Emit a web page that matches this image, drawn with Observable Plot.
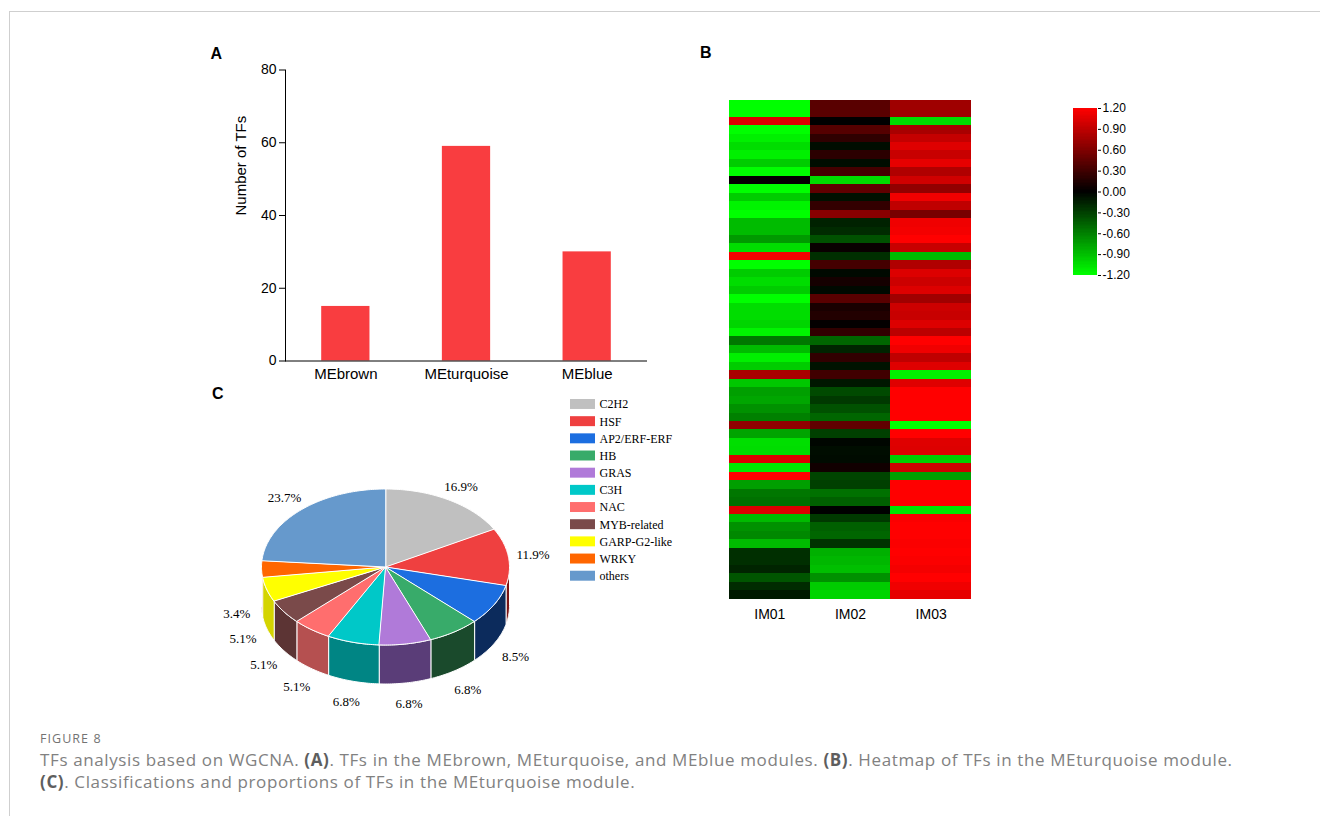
<!DOCTYPE html>
<html><head><meta charset="utf-8">
<script src="https://cdn.jsdelivr.net/npm/d3@7"></script>
<script src="https://cdn.jsdelivr.net/npm/@observablehq/plot@0.6"></script>
<style>
html,body{margin:0;padding:0;background:#fff;}
#root{position:relative;width:1320px;height:816px;overflow:hidden;background:#fff;}
.abs{position:absolute;}
.panel{font-family:"Liberation Sans",Arial,sans-serif;font-weight:bold;font-size:16px;line-height:16px;color:#000;}
.frame{position:absolute;left:9px;top:11px;width:1400px;height:900px;border-left:1px solid #cfcfcf;border-top:1px solid #cfcfcf;}
.figlab{font-family:"Open Sans",sans-serif;font-size:12.5px;line-height:14px;color:#737373;letter-spacing:1.05px;}
.cap{font-family:"Open Sans",sans-serif;font-size:17px;line-height:20px;color:#818181;white-space:nowrap;letter-spacing:0.62px;}
.cap b{color:#5e5e5e;}
</style></head>
<body><div id="root"><div class="frame"></div></div>
<script>
// ---------- Panel A data ----------
const modules = ["MEbrown", "MEturquoise", "MEblue"];
const tfCounts = [15, 59, 30];
const yTicksA = [0, 20, 40, 60, 80];

// ---------- Panel B data (heatmap, 59 TFs x 3 samples) ----------
const heatSamples = ["IM01", "IM02", "IM03"];
const im01 = [-1.2,-1.2,1.04,-1.2,-1.13,-1.04,-1.13,-0.96,-1.2,0.02,-1.2,-0.96,-1.15,-1.2,-0.88,-0.88,-0.72,-1.04,1.15,-1.2,-0.96,-1.04,-0.96,-1.2,-1.04,-1.04,-1.0,-1.15,-0.56,-0.88,-1.13,-0.96,0.8,-0.94,-0.75,-0.78,-0.68,-0.6,0.68,-0.77,-1.05,-1.04,1.04,-1.1,1.2,-0.75,-0.56,-0.53,1.04,-0.88,-0.68,-0.64,-0.88,-0.22,-0.22,-0.17,-0.4,-0.2,-0.12];
const im02 = [0.42,0.42,0.0,0.4,0.22,-0.06,0.2,-0.06,0.32,-1.04,0.45,-0.08,0.24,0.64,-0.16,-0.2,-0.38,0.04,-0.22,0.32,-0.04,0.1,-0.04,0.42,0.12,0.16,0.02,0.23,-0.48,-0.17,0.23,-0.09,0.3,-0.11,-0.35,-0.27,-0.38,-0.48,0.45,-0.3,-0.03,-0.06,-0.05,0.08,-0.32,-0.3,-0.53,-0.45,0.0,-0.27,-0.45,-0.48,-0.24,-0.83,-0.86,-0.9,-0.68,-0.96,-1.0];
const im03 = [0.75,0.75,-1.04,0.79,0.92,1.05,0.94,1.08,0.83,0.98,0.68,1.13,0.9,0.56,1.13,1.15,1.2,0.94,-0.88,0.83,1.04,0.96,1.04,0.75,0.96,0.94,1.04,0.88,1.2,1.13,0.9,1.05,-1.13,1.05,1.2,1.2,1.2,1.2,-1.2,1.2,1.05,1.04,-0.96,0.96,-0.75,1.2,1.2,1.2,-1.08,1.18,1.2,1.2,1.18,1.2,1.18,1.15,1.2,1.13,1.08];
const legendTicks = [-1.2, -0.9, -0.6, -0.3, 0, 0.3, 0.6, 0.9, 1.2];

// ---------- Panel C data ----------
const tfFamilies = ["C2H2","HSF","AP2/ERF-ERF","HB","GRAS","C3H","NAC","MYB-related","GARP-G2-like","WRKY","others"];
const familyCounts = [10, 7, 5, 4, 4, 4, 3, 3, 3, 2, 14];
const topColors = ["#c0c0c0","#ef4040","#1c6ee0","#38ab6a","#b07ad9","#00c8c8","#ff6e6e","#7a4a4a","#ffff00","#ff6600","#6699cc"];
const wallColors = ["#808080","#7a1414","#0c2b5c","#1a4a2c","#5a3d78","#008584","#b55050","#5c3434","#d4d400","#c05000","#3f6a99"];

const root = document.getElementById("root");
function place(el, left, top) {
  el.style.position = "absolute";
  el.style.left = left + "px";
  el.style.top = top + "px";
  root.appendChild(el);
}
function addDiv(cls, html, left, top) {
  const d = document.createElement("div");
  d.className = "abs " + cls;
  d.innerHTML = html;
  place(d, left, top);
}
const baseStyle = {background: "none", overflow: "visible", fontFamily: "'Liberation Sans', Arial, sans-serif", fontSize: "14px", color: "#000"};

// ---------- Panel A ----------
const barData = modules.map((m, i) => ({module: m, n: tfCounts[i]}));
const plotA = Plot.plot({
  width: 470, height: 350,
  marginLeft: 95, marginRight: 13, marginTop: 29.5, marginBottom: 29.5,
  style: baseStyle,
  x: {domain: modules, paddingInner: 0.6, paddingOuter: 0.3, round: false, axis: null},
  y: {domain: [0, 80], axis: null},
  marks: [
    Plot.barY(barData, {x: "module", y: "n", fill: "#f93d40"}),
    Plot.ruleY([0], {stroke: "#000"}),
    Plot.frame({anchor: "left", stroke: "#000"}),
    Plot.axisY(yTicksA, {tickSize: 6, tickPadding: 3, fontSize: 14, label: null}),
    Plot.axisX({tickSize: 0, tickPadding: 7, fontSize: 15, label: null}),
    Plot.text(["Number of TFs"], {frameAnchor: "left", rotate: -90, dx: -44, fontSize: 15, text: d => d})
  ]
});
place(plotA, 190, 40);

// ---------- Panel B heatmap ----------
const cells = [];
im01.forEach((v, i) => {
  cells.push({row: i, sample: "IM01", value: v});
  cells.push({row: i, sample: "IM02", value: im02[i]});
  cells.push({row: i, sample: "IM03", value: im03[i]});
});
const colorOpts = {type: "linear", domain: [-1.2, 1.2], clamp: true,
  interpolate: d3.piecewise(d3.interpolateRgb, ["#00ff00", "#000000", "#ff0000"])};
const plotB = Plot.plot({
  width: 300, height: 545,
  marginLeft: 29, marginRight: 29, marginTop: 9.7, marginBottom: 36.5,
  style: baseStyle,
  x: {domain: heatSamples, padding: 0, round: false, axis: null},
  y: {domain: d3.range(im01.length), padding: 0, round: false, axis: null},
  color: colorOpts,
  marks: [
    Plot.cell(cells, {x: "sample", y: "row", fill: "value", shapeRendering: "crispEdges"}),
    Plot.axisX({tickSize: 0, tickPadding: 10, fontSize: 14, label: null})
  ]
});
place(plotB, 700, 90);

// color legend
const nStops = 120;
const stops = d3.range(nStops).map(i => -1.2 + 2.4 * i / nStops);
const plotLeg = Plot.plot({
  width: 110, height: 200,
  marginLeft: 23, marginRight: 63, marginTop: 13, marginBottom: 20,
  style: baseStyle,
  x: {domain: [0, 1], axis: null},
  y: {domain: [-1.2, 1.2], axis: null},
  color: colorOpts,
  marks: [
    Plot.rect(stops, {x1: 0, x2: 1, y1: d => d, y2: d => d + 2.4 / nStops + 0.004, fill: d => d + 1.2 / nStops, shapeRendering: "crispEdges"}),
    Plot.axisY(legendTicks, {anchor: "right", tickSize: 3, tickPadding: 2, fontSize: 12, label: null, tickFormat: d => d.toFixed(2)})
  ]
});
place(plotLeg, 1050, 95);

// ---------- Panel C 3D pie ----------
const arcs = d3.pie().sort(null).value(d => d)(familyCounts);
const depth = 0.5; // wall height, in radius-y units
const topPts = [], wallPts = [], labels = [];
const stepA = Math.PI / 180;
arcs.forEach((a, i) => {
  topPts.push({id: i, x: 0, y: 0, c: topColors[i]});
  const n = Math.max(2, Math.ceil((a.endAngle - a.startAngle) / stepA));
  for (let k = 0; k <= n; k++) {
    const t = a.startAngle + (a.endAngle - a.startAngle) * k / n;
    topPts.push({id: i, x: Math.sin(t), y: Math.cos(t), c: topColors[i]});
  }
  const w0 = Math.max(a.startAngle, Math.PI / 2), w1 = Math.min(a.endAngle, 3 * Math.PI / 2);
  if (w1 > w0) {
    const m = Math.max(2, Math.ceil((w1 - w0) / stepA));
    for (let k = 0; k <= m; k++) {
      const t = w0 + (w1 - w0) * k / m;
      wallPts.push({id: i, x: Math.sin(t), y: Math.cos(t), c: wallColors[i]});
    }
    for (let k = m; k >= 0; k--) {
      const t = w0 + (w1 - w0) * k / m;
      wallPts.push({id: i, x: Math.sin(t), y: Math.cos(t) - depth, c: wallColors[i]});
    }
  }
  const mid = (a.startAngle + a.endAngle) / 2;
  const c = Math.cos(mid);
  labels.push({x: 1.2 * Math.sin(mid), y: 1.2 * c - (c < 0 ? depth + 0.07 : 0),
    text: (100 * familyCounts[i] / d3.sum(familyCounts)).toFixed(1) + "%"});
});
const plotC = Plot.plot({
  width: 380, height: 260,
  marginLeft: 61, marginRight: 71, marginTop: 28.5, marginBottom: 75.5,
  style: baseStyle,
  x: {domain: [-1, 1], axis: null},
  y: {domain: [-1, 1], axis: null},
  color: {type: "identity"},
  marks: [
    Plot.line(wallPts, {x: "x", y: "y", z: "id", fill: "c", stroke: "#ffffff", strokeWidth: 1, curve: "linear-closed", strokeLinejoin: "round"}),
    Plot.line(topPts, {x: "x", y: "y", z: "id", fill: "c", stroke: "#ffffff", strokeWidth: 1, curve: "linear-closed", strokeLinejoin: "round"}),
    Plot.text(labels, {x: "x", y: "y", text: "text", fontFamily: "'Liberation Serif', 'Times New Roman', serif", fontSize: 13, fill: "#000"})
  ]
});
place(plotC, 200, 460);

// pie legend
const plotCL = Plot.plot({
  width: 140, height: 200,
  marginLeft: 10, marginRight: 105, marginTop: 5.4, marginBottom: 5.7,
  style: baseStyle,
  x: {domain: [0, 1], axis: null},
  y: {domain: tfFamilies, paddingInner: 0.42, paddingOuter: 0.21, round: false, axis: null},
  color: {domain: tfFamilies, range: topColors},
  marks: [
    Plot.barX(tfFamilies, {x1: 0, x2: 1, y: d => d, fill: d => d}),
    Plot.text(tfFamilies, {x: 1, y: d => d, text: d => d, textAnchor: "start", dx: 4, fontFamily: "'Liberation Serif', 'Times New Roman', serif", fontSize: 12, fill: "#000"})
  ]
});
place(plotCL, 560, 390);

// ---------- panel letters & caption ----------
addDiv("panel", "A", 210.5, 46);
addDiv("panel", "B", 700, 45);
addDiv("panel", "C", 212, 385.5);
addDiv("figlab", "FIGURE 8", 40, 732);
addDiv("cap", "TFs analysis based on WGCNA. <b>(A)</b>. TFs in the MEbrown, MEturquoise, and MEblue modules. <b>(B)</b>. Heatmap of TFs in the MEturquoise module.", 40, 750);
addDiv("cap", "<b>(C)</b>. Classifications and proportions of TFs in the MEturquoise module.", 40, 772);
</script>
</body></html>
